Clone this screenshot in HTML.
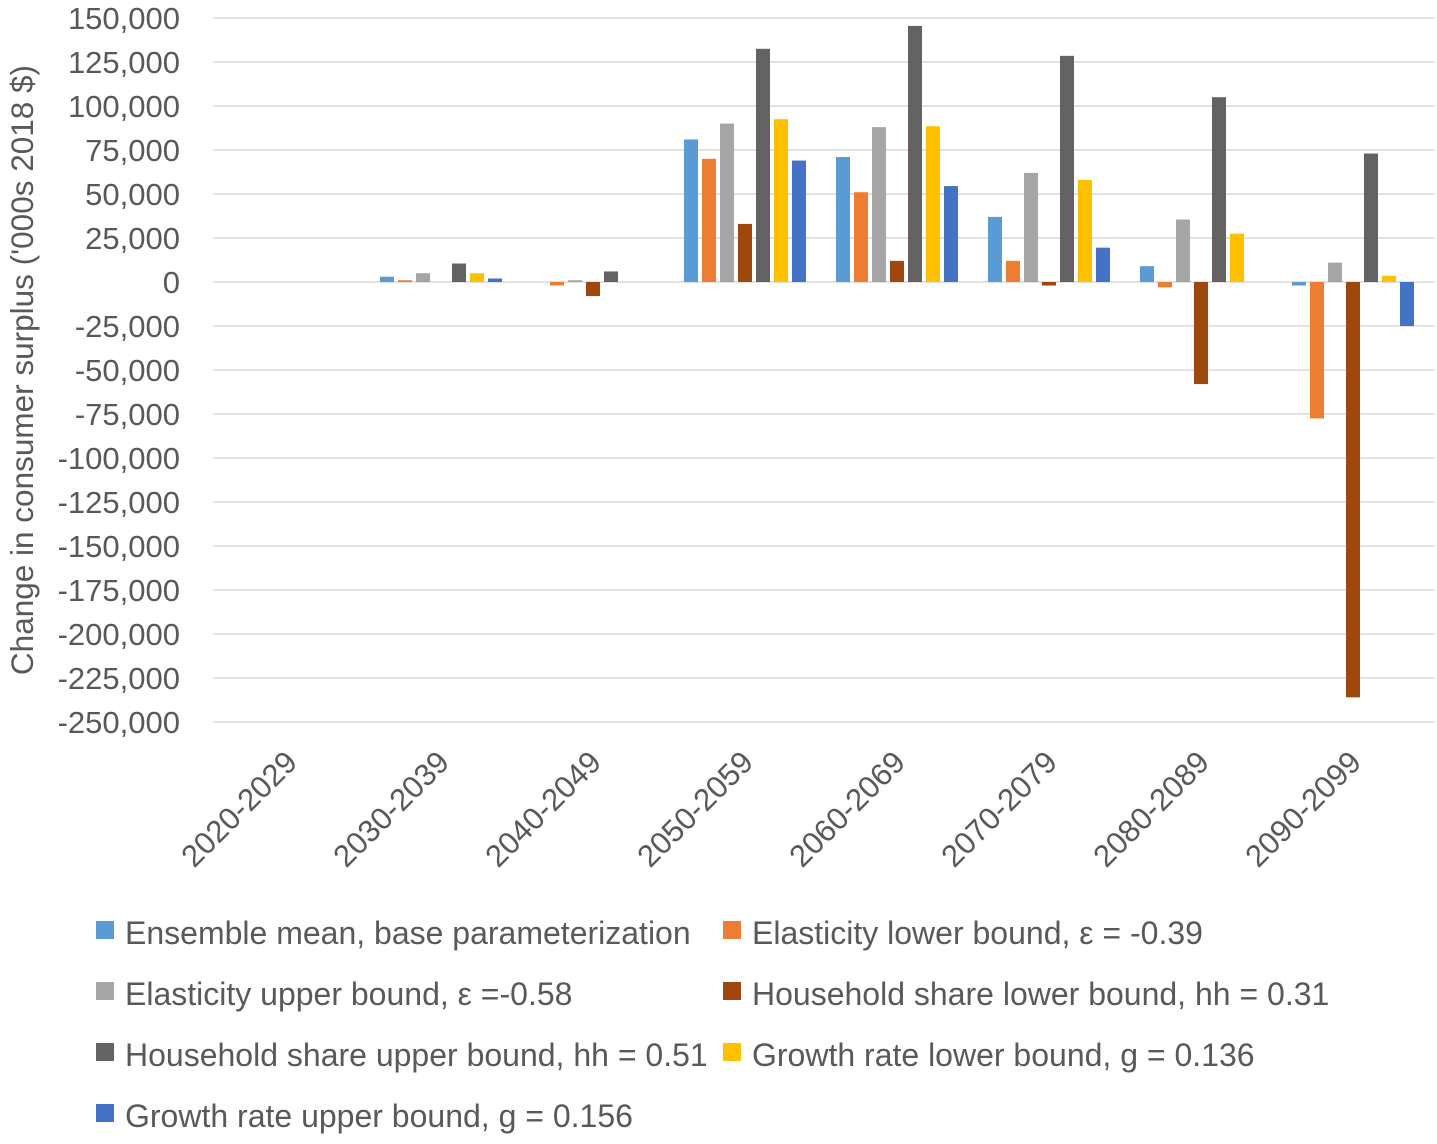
<!DOCTYPE html>
<html><head><meta charset="utf-8"><style>
body{margin:0;background:#fff;}
svg text{font-family:"Liberation Sans",sans-serif;fill:#595959;}
</style></head><body>
<svg id="chart" width="1437" height="1139" xmlns="http://www.w3.org/2000/svg">
<g id="grid"></g><g id="bars"></g><g id="ylabels"></g><g id="xlabels"></g><g id="legend"></g>
<text transform="translate(33,370) rotate(-90)" text-anchor="middle" font-size="31.5">Change in consumer surplus ('000s 2018 $)</text>
</svg>
<script>
const categories=["2020-2029","2030-2039","2040-2049","2050-2059","2060-2069","2070-2079","2080-2089","2090-2099"];
const seriesNames=["Ensemble mean, base parameterization","Elasticity lower bound, ε = -0.39","Elasticity upper bound, ε =-0.58","Household share lower bound, hh = 0.31","Household share upper bound, hh = 0.51","Growth rate lower bound, g = 0.136","Growth rate upper bound, g = 0.156"];
const seriesColors=["#5B9BD5","#ED7D31","#A5A5A5","#9E480E","#636363","#FFC000","#4472C4"];
const ensembleMean=[0,3000,0,81000,71000,37000,9000,-2000];
const elasticityLower=[0,1000,-2000,70000,51000,12000,-3000,-77500];
const elasticityUpper=[0,5000,1000,90000,88000,62000,35500,11000];
const householdLower=[0,0,-8000,33000,12000,-2000,-58000,-236000];
const householdUpper=[0,10500,6000,132500,145500,128500,105000,73000];
const growthLower=[0,5000,0,92500,88500,58000,27500,3500];
const growthUpper=[0,2000,0,69000,54500,19500,0,-25000];
const series=[ensembleMean,elasticityLower,elasticityUpper,householdLower,householdUpper,growthLower,growthUpper];
const yTicks=[150000,125000,100000,75000,50000,25000,0,-25000,-50000,-75000,-100000,-125000,-150000,-175000,-200000,-225000,-250000];
const NS="http://www.w3.org/2000/svg";
const x0=213,x1=1429,gw=(x1-x0)/categories.length;
function y(v){return 282-v*(264/150000);}
function mk(tag,attrs,parent,txt){const e=document.createElementNS(NS,tag);for(const k in attrs)e.setAttribute(k,attrs[k]);if(txt!==undefined)e.textContent=txt;document.getElementById(parent).appendChild(e);return e;}
yTicks.forEach(t=>{
  const l=mk("line",{x1:x0,x2:x1+6,y1:y(t),y2:y(t),stroke:"#D9D9D9","stroke-width":1.5},"grid");
  
  
  const tx=mk("text",{x:180,y:y(t)+11,"text-anchor":"end","font-size":31},"ylabels",t.toLocaleString("en-US"));
  
  
});
categories.forEach((c,i)=>{
  const cx=x0+gw*(i+0.5);
  series.forEach((s,j)=>{
    const v=s[i];
    const bx=cx-61+j*18;
    const r=mk("rect",{x:bx,y:Math.min(y(v),y(0)),width:14,height:Math.abs(y(v)-y(0)),fill:seriesColors[j]},"bars");
    
    
  });
  const tx=mk("text",{transform:`translate(${cx+10},${764}) rotate(-45)`,"text-anchor":"end","font-size":31},"xlabels",c);
  
  
});
seriesNames.forEach((n,j)=>{
  const col=j%2,row=Math.floor(j/2);
  const lx=col?723:96,ly=933+row*61;
  const r=mk("rect",{x:lx,y:ly-12,width:18,height:18,fill:seriesColors[j]},"legend");
  
  
  const t=mk("text",{x:lx+29,y:ly+11,"font-size":32},"legend",n);
  
  
});
</script>
</body></html>
